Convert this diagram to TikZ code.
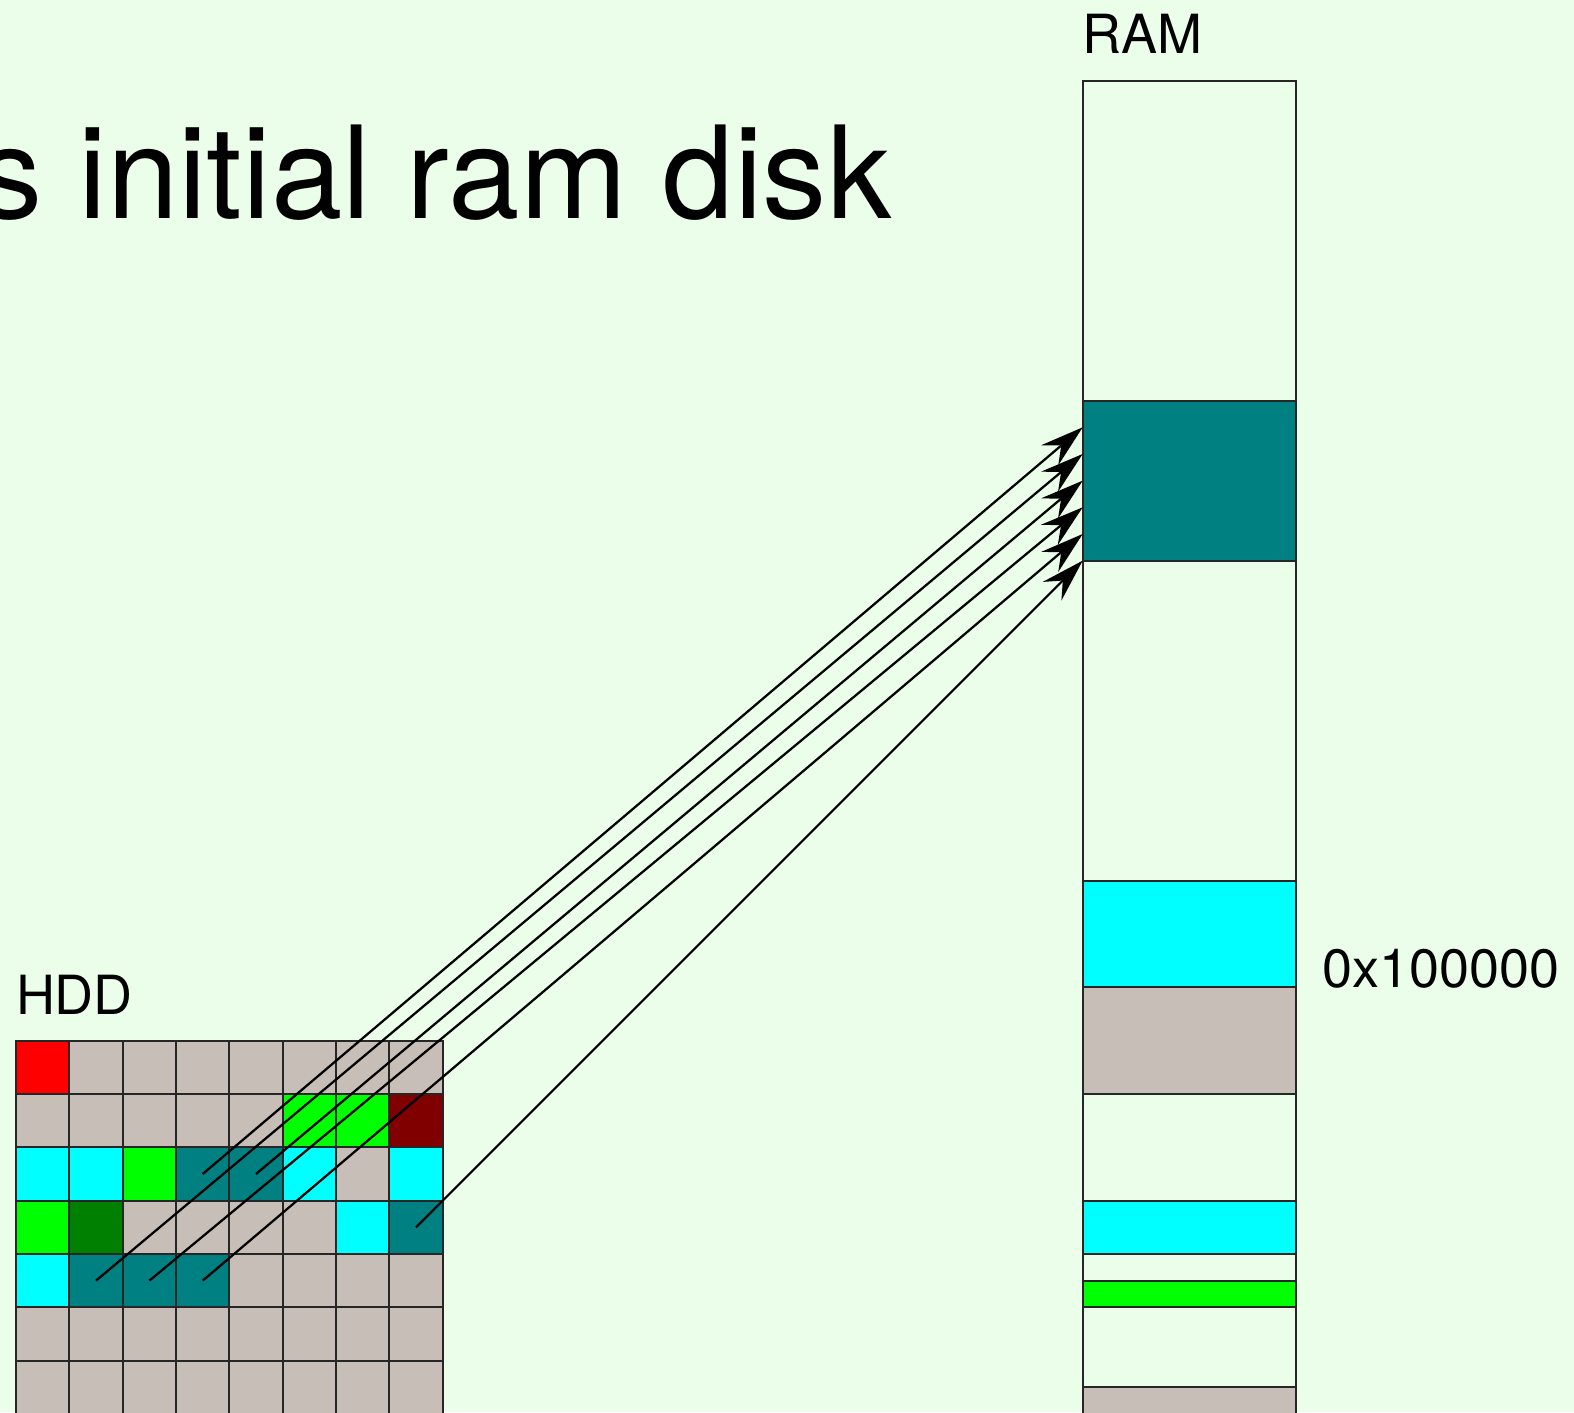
\documentclass[tikz,border=0pt]{standalone}
\usepackage{fontspec}
\setmainfont{TeX Gyre Heros}
\usetikzlibrary{arrows.meta}
\definecolor{bgc}{HTML}{EAFEEA}
\definecolor{dg}{HTML}{C8BEB8}
\definecolor{tl}{HTML}{008080}
\definecolor{cy}{HTML}{00FFFF}
\definecolor{lm}{HTML}{00FF00}
\definecolor{gr}{HTML}{008000}
\definecolor{mr}{HTML}{800000}
\definecolor{rd}{HTML}{FF0000}
\begin{document}
\begin{tikzpicture}[x=1cm,y=-1cm,
  cell/.style={draw=black!85, line width=1.1pt, minimum size=1cm, inner sep=0pt, outer sep=0pt},
  ramseg/.style={draw=black!85, line width=1.1pt, minimum width=4cm, inner sep=0pt, outer sep=0pt},
  lbl/.style={inner sep=0pt, outer sep=0pt, font=\fontsize{28.8pt}{34pt}\selectfont},
  ttl/.style={inner sep=0pt, outer sep=0pt, font=\fontsize{68.5pt}{80pt}\selectfont},
  conn/.style={line width=1.2pt, -{Stealth[length=23pt,width=14pt,inset=8pt]}}]
\clip (-0.3,-19.5125) rectangle (29.2125,6.9625);
\fill[bgc] (-0.3,-19.5125) rectangle (29.2125,6.9625);
% title
\node[ttl, anchor=base west] (title) at (-0.70,-15.42) {s initial ram disk};
% HDD grid
\foreach \row/\cols in {
  0/{rd,dg,dg,dg,dg,dg,dg,dg},
  1/{dg,dg,dg,dg,dg,lm,lm,mr},
  2/{cy,cy,lm,tl,tl,cy,dg,cy},
  3/{lm,gr,dg,dg,dg,dg,cy,tl},
  4/{cy,tl,tl,tl,dg,dg,dg,dg},
  5/{dg,dg,dg,dg,dg,dg,dg,dg},
  6/{dg,dg,dg,dg,dg,dg,dg,dg},
  7/{dg,dg,dg,dg,dg,dg,dg,dg}} {
  \foreach \c [count=\i from 0] in \cols {
    \node[cell, fill=\c] (h-\row-\i) at (\i+0.5,\row+0.5) {};
  }
}
\node[lbl, anchor=base west] (hddlbl) at (0,-0.5) {HDD};
% RAM column
\node[ramseg, minimum height=6cm] (ramA) at (22,-15) {};
\node[ramseg, fill=tl, minimum height=3cm] (ramteal) at (22,-10.5) {};
\node[ramseg, minimum height=6cm] (ramB) at (22,-6) {};
\node[ramseg, fill=cy, minimum height=2cm] (ramcyan) at (22,-2) {};
\node[ramseg, fill=dg, minimum height=2cm] (ramgray) at (22,0) {};
\node[ramseg, minimum height=2cm] (ramC) at (22,2) {};
\node[ramseg, fill=cy, minimum height=1cm] (ramcyanb) at (22,3.5) {};
\node[ramseg, minimum height=0.5cm] (ramD) at (22,4.25) {};
\node[ramseg, fill=lm, minimum height=0.5cm] (ramgreen) at (22,4.75) {};
\node[ramseg, minimum height=1.5cm] (ramE) at (22,5.75) {};
\node[ramseg, fill=dg, minimum height=1.5cm] (ramgrayb) at (22,7.25) {};
\node[lbl, anchor=base west] (ramlbl) at (20,-18.5) {RAM};
\node[lbl, anchor=base west] (addr) at (24.5,-1) {0x100000};
% arrow targets on the teal block
\coordinate (t1) at (20,-11.5);
\coordinate (t2) at (20,-11);
\coordinate (t3) at (20,-10.5);
\coordinate (t4) at (20,-10);
\coordinate (t5) at (20,-9.5);
\coordinate (t6) at (20,-9);
% connectors
\draw[conn] (h-2-3.center) -- (t1);
\draw[conn] (h-4-1.center) -- (t2);
\draw[conn] (h-2-4.center) -- (t3);
\draw[conn] (h-4-2.center) -- (t4);
\draw[conn] (h-4-3.center) -- (t5);
\draw[conn] (h-3-7.center) -- (t6);
\end{tikzpicture}
\end{document}
